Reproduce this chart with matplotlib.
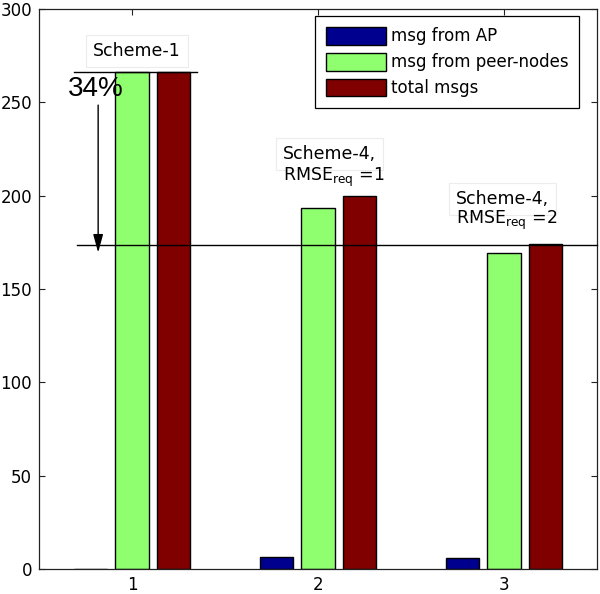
import numpy as np
import matplotlib
matplotlib.use('Agg')
import matplotlib.pyplot as plt

plt.rcParams['font.family'] = ['DejaVu Sans']
plt.rcParams['mathtext.default'] = 'regular'

# данные
groups = [1, 2, 3]
msg_ap = [0, 6.4, 5.7]
msg_peer = [266.5, 193.6, 169.4]
msg_total = [266.5, 199.6, 174.2]
labels = ['msg from AP', 'msg from peer-nodes', 'total msgs']
colors = ['#00008f', '#8fff70', '#800000']
level = 173.4

fig = plt.figure(figsize=(6, 5.94), dpi=100)
ax = fig.add_axes([0.065, 0.0421, 0.93, 0.9428])

x = np.array(groups)
w = 0.18
off = 0.222
for i, vals in enumerate([msg_ap, msg_peer, msg_total]):
    ax.bar(x + (i - 1) * off, vals, w, color=colors[i], edgecolor='black',
           linewidth=1, label=labels[i], zorder=2)

ax.set_xlim(0.5, 3.5)
ax.set_ylim(0, 300)
ax.set_xticks(groups)
ax.set_yticks(np.arange(0, 301, 50))
ax.tick_params(direction='in', length=4.5, width=0.8, labelsize=12, pad=5,
               top=True, right=True, colors='#222222', labelcolor='black')
for s in ax.spines.values():
    s.set_linewidth(0.9)
    s.set_color('#222222')

# линии уровня и стрелка
ax.plot([0.689, 1.349], [msg_total[0], msg_total[0]], color='black', lw=1, zorder=3)
ax.plot([0.705, 3.5], [level, level], color='black', lw=1, zorder=3, clip_on=False)
ax.annotate('', xy=(0.818, 169.5), xytext=(0.818, 248.5),
            arrowprops=dict(arrowstyle='-|>,head_length=1.1,head_width=0.3',
                            color='black', lw=1, shrinkA=0, shrinkB=0))
ax.text(0.807, 257, '34%', fontsize=20, ha='center', va='center',
        family='Liberation Sans')

box = dict(facecolor='white', edgecolor='#ececec', linewidth=0.8, pad=5)
ax.text(0.791, 275, 'Scheme-1', fontsize=12.5, va='baseline', bbox=box)
ax.text(1.81, 219.4, 'Scheme-4,', fontsize=12.5, va='baseline', bbox=box)
ax.text(1.81, 207.8, 'RMSE$_{req}$ =1', fontsize=12.5, va='baseline')
ax.text(2.743, 195.7, 'Scheme-4,', fontsize=12.5, va='baseline', bbox=box)
ax.text(2.743, 184.8, 'RMSE$_{req}$ =2', fontsize=12.5, va='baseline')

leg = ax.legend(loc='upper right', bbox_to_anchor=(0.968, 0.9875), borderaxespad=0,
                fontsize=12, handlelength=3.6, handleheight=1.26, handletextpad=0.3,
                labelspacing=0.45, borderpad=0.65, fancybox=False, framealpha=1)
leg.get_frame().set_edgecolor('black')
leg.get_frame().set_linewidth(0.9)

plt.savefig('out.png', dpi=100)
